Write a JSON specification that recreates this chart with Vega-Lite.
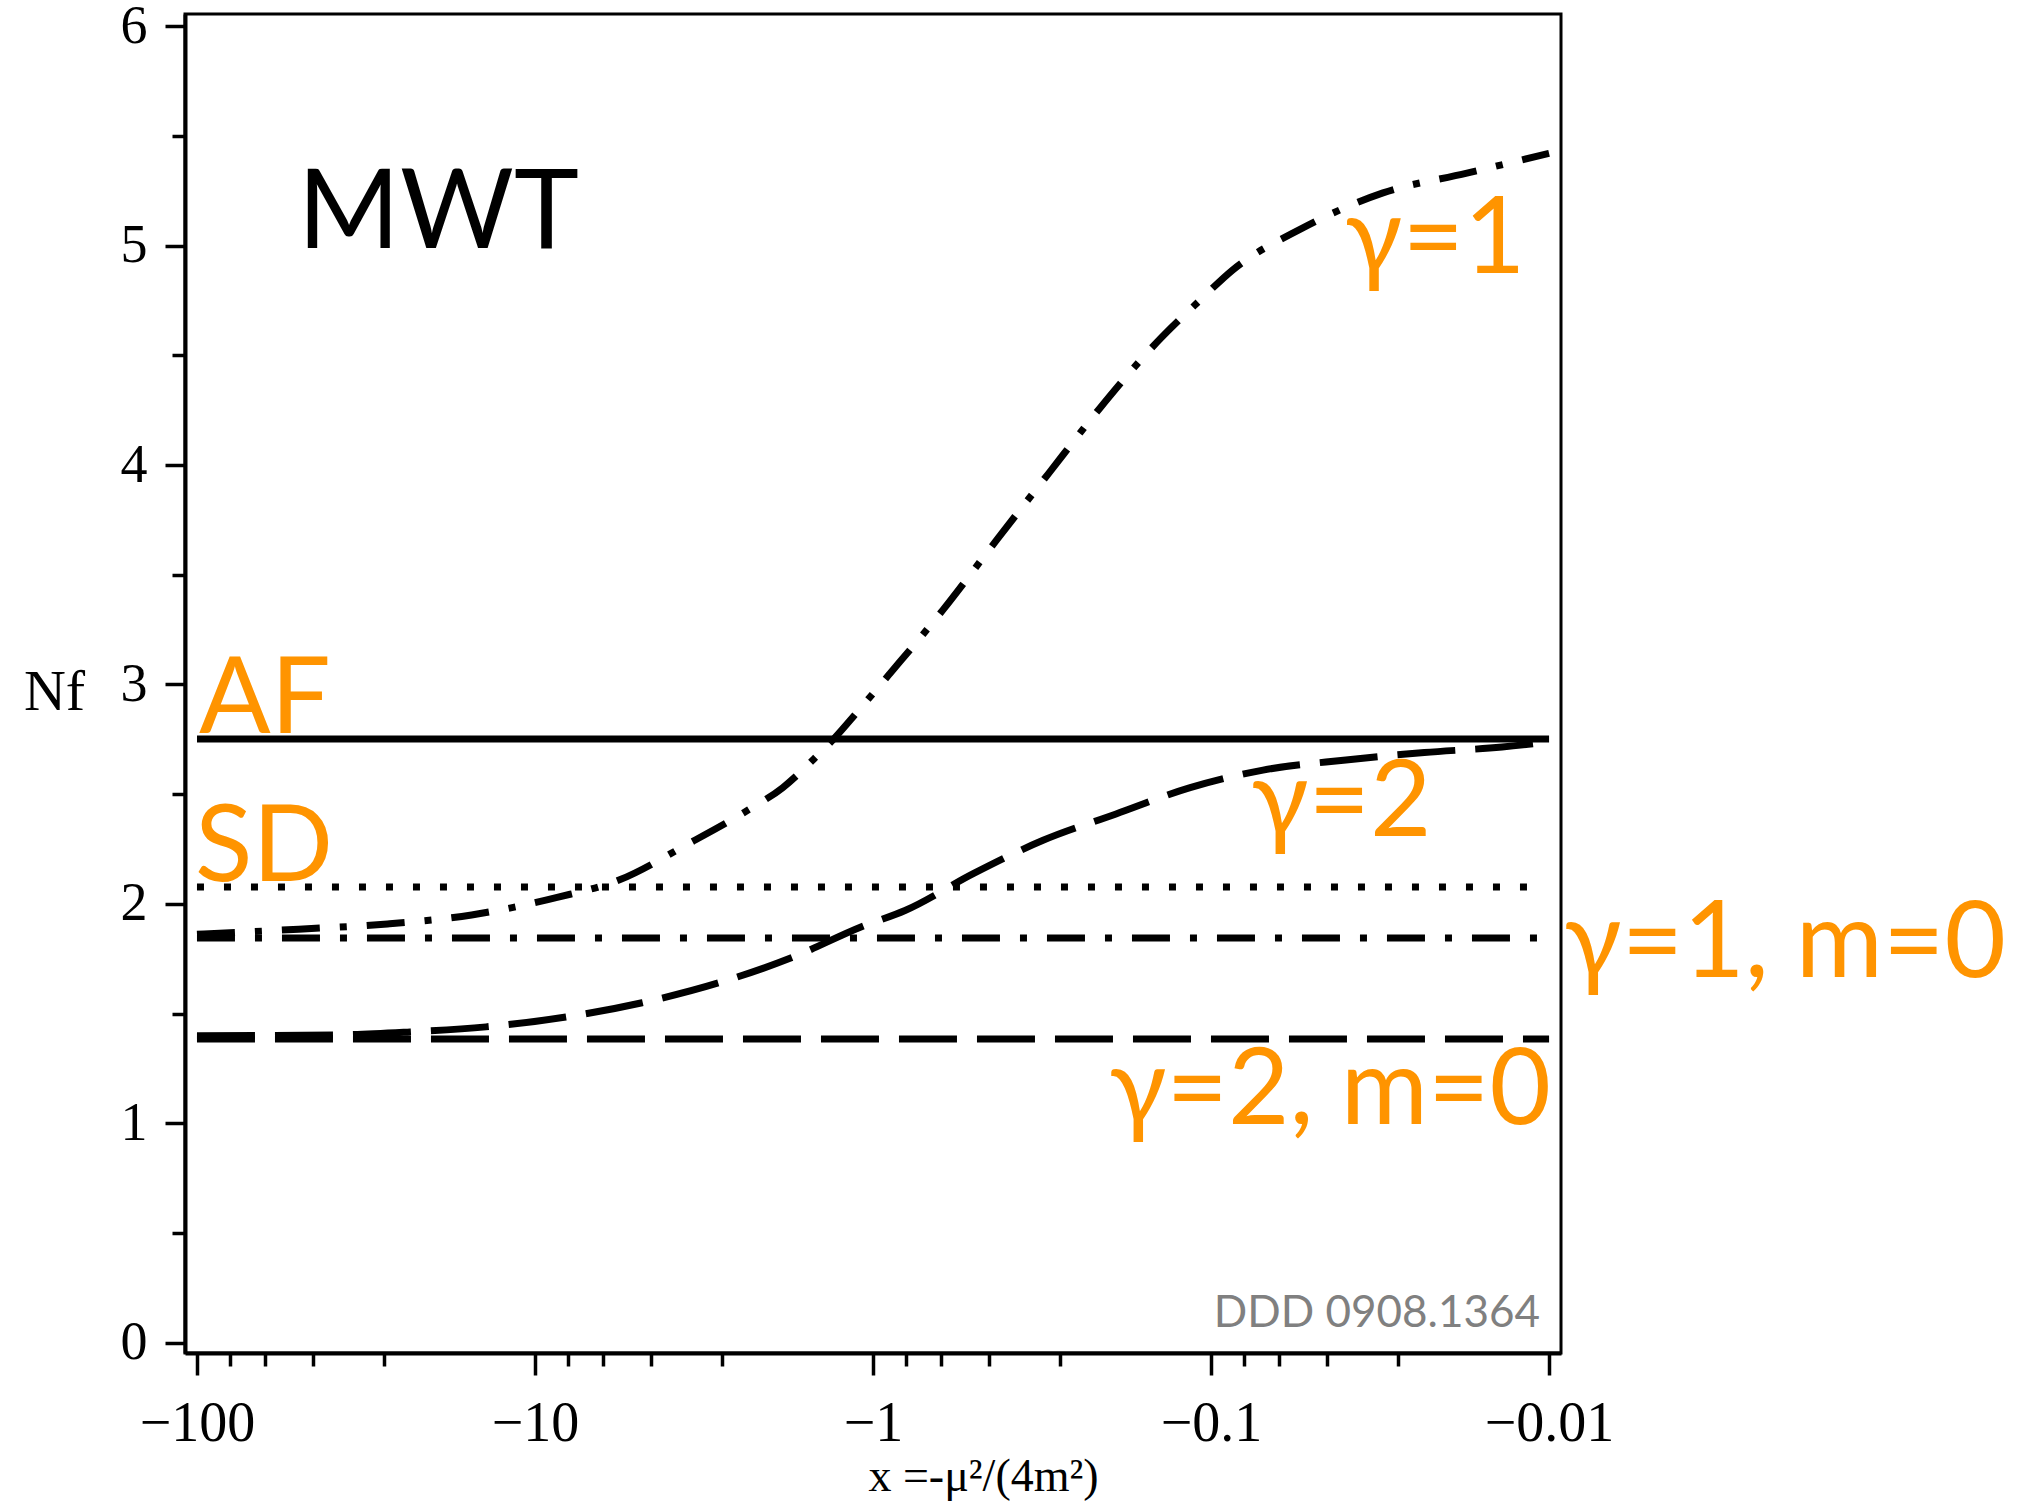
{
  "$schema": "https://vega.github.io/schema/vega-lite/v6.json",
  "autosize": {"type": "none"},
  "width": 1376,
  "height": 1339,
  "padding": {"left": 185, "top": 14, "right": 467, "bottom": 148},
  "background": "white",
  "config": {
    "view": {"stroke": "black", "strokeWidth": 3},
    "axis": {"grid": false}
  },
  "datasets": {
    "lines": [
      {"series": "AF", "t": 100, "y": 2.752},
      {"series": "AF", "t": 0.01, "y": 2.752},
      {"series": "SD", "t": 100, "y": 2.077},
      {"series": "SD", "t": 0.0105, "y": 2.077},
      {"series": "g1m0", "t": 100, "y": 1.845},
      {"series": "g1m0", "t": 0.0105, "y": 1.845},
      {"series": "g2m0", "t": 100, "y": 1.385},
      {"series": "g2m0", "t": 0.01, "y": 1.385},
      {"series": "g1", "t": 100, "y": 1.862},
      {"series": "g1", "t": 50, "y": 1.885},
      {"series": "g1", "t": 27.3, "y": 1.909},
      {"series": "g1", "t": 15.4, "y": 1.95},
      {"series": "g1", "t": 8.6, "y": 2.03},
      {"series": "g1", "t": 5.62, "y": 2.11},
      {"series": "g1", "t": 3.56, "y": 2.27},
      {"series": "g1", "t": 2.33, "y": 2.43},
      {"series": "g1", "t": 1.85, "y": 2.53},
      {"series": "g1", "t": 1.475, "y": 2.67},
      {"series": "g1", "t": 1.3, "y": 2.756},
      {"series": "g1", "t": 1.12, "y": 2.87},
      {"series": "g1", "t": 0.891, "y": 3.05},
      {"series": "g1", "t": 0.621, "y": 3.34},
      {"series": "g1", "t": 0.43, "y": 3.66},
      {"series": "g1", "t": 0.303, "y": 3.96},
      {"series": "g1", "t": 0.213, "y": 4.26},
      {"series": "g1", "t": 0.1445, "y": 4.56},
      {"series": "g1", "t": 0.108, "y": 4.75},
      {"series": "g1", "t": 0.0861, "y": 4.89},
      {"series": "g1", "t": 0.0535, "y": 5.08},
      {"series": "g1", "t": 0.031, "y": 5.24},
      {"series": "g1", "t": 0.0175, "y": 5.33},
      {"series": "g1", "t": 0.01, "y": 5.42},
      {"series": "g2", "t": 100, "y": 1.4},
      {"series": "g2", "t": 39.3, "y": 1.403},
      {"series": "g2", "t": 23.4, "y": 1.417},
      {"series": "g2", "t": 13.96, "y": 1.44},
      {"series": "g2", "t": 8.1, "y": 1.485},
      {"series": "g2", "t": 4.82, "y": 1.55},
      {"series": "g2", "t": 2.87, "y": 1.64},
      {"series": "g2", "t": 1.71, "y": 1.76},
      {"series": "g2", "t": 1.086, "y": 1.895},
      {"series": "g2", "t": 0.804, "y": 1.97},
      {"series": "g2", "t": 0.502, "y": 2.14},
      {"series": "g2", "t": 0.314, "y": 2.29},
      {"series": "g2", "t": 0.191, "y": 2.41},
      {"series": "g2", "t": 0.1153, "y": 2.53},
      {"series": "g2", "t": 0.0702, "y": 2.61},
      {"series": "g2", "t": 0.0399, "y": 2.656},
      {"series": "g2", "t": 0.0234, "y": 2.69},
      {"series": "g2", "t": 0.01377, "y": 2.715},
      {"series": "g2", "t": 0.01, "y": 2.738}
    ],
    "orange": [
      {"label": "AF", "t": 98.6, "y": 2.779},
      {"label": "SD", "t": 101.4, "y": 2.105},
      {"label": "γ=1", "t": 0.0402, "y": 4.875},
      {"label": "γ=2", "t": 0.0762, "y": 2.31},
      {"label": "γ=1, m=0", "t": 0.00903, "y": 1.667},
      {"label": "γ=2, m=0", "t": 0.2004, "y": 0.998}
    ],
    "title": [{"label": "MWT", "t": 50.3, "y": 4.989}],
    "credit": [{"label": "DDD 0908.1364", "t": 0.01064, "y": 0.073}]
  },
  "resolve": {"axis": {"x": "independent", "y": "independent"}},
  "layer": [
    {
      "data": {"name": "lines"},
      "mark": {"type": "line", "color": "black", "strokeWidth": 7, "strokeCap": "butt", "interpolate": "monotone"},
      "encoding": {
        "x": {
          "field": "t", "type": "quantitative",
          "scale": {"type": "log", "domain": [0.00922, 108.5], "reverse": true, "nice": false},
          "axis": {
            "orient": "bottom",
            "values": [100, 10, 1, 0.1, 0.01],
            "labelExpr": "'−' + datum.value",
            "tickSize": 22, "tickWidth": 3.5, "tickColor": "black",
            "domainWidth": 4, "domainColor": "black",
            "labelFont": "Liberation Serif", "labelFontSize": 56, "labelColor": "black",
            "labelPadding": 21, "labelFlush": false, "labelOverlap": false,
            "title": "x =-μ²/(4m²)",
            "titleFont": "Liberation Serif", "titleFontSize": 46, "titleFontWeight": "normal",
            "titleColor": "black", "titleX": 798, "titleY": 137,
            "titleBaseline": "alphabetic", "titleAlign": "center"
          }
        },
        "y": {
          "field": "y", "type": "quantitative",
          "scale": {"domain": [-0.046, 6.055], "nice": false, "zero": false},
          "axis": {
            "orient": "left",
            "values": [0, 1, 2, 3, 4, 5, 6],
            "tickSize": 20, "tickWidth": 3.5, "tickColor": "black",
            "domainWidth": 4, "domainColor": "black",
            "labelFont": "Liberation Serif", "labelFontSize": 54, "labelColor": "black",
            "labelPadding": 18, "labelFlush": false, "labelOverlap": false,
            "title": "Nf", "titleAngle": 0,
            "titleFont": "Liberation Serif", "titleFontSize": 58, "titleFontWeight": "normal",
            "titleColor": "black", "titleX": -131, "titleY": 695,
            "titleBaseline": "alphabetic", "titleAlign": "center"
          }
        },
        "strokeDash": {
          "field": "series", "type": "nominal",
          "scale": {
            "domain": ["AF", "SD", "g1m0", "g2m0", "g1", "g2"],
            "range": [[1, 0], [7, 20], [38, 20, 7, 20], [58, 20], [38, 20, 7, 20], [58, 20]]
          },
          "legend": null
        }
      }
    },
    {
      "data": {"name": "orange"},
      "mark": {"type": "text", "font": "Lato, Open Sans, sans-serif", "fontSize": 106, "color": "#FF9400", "align": "left", "baseline": "alphabetic"},
      "encoding": {
        "x": {
          "field": "t", "type": "quantitative",
          "scale": {"type": "log", "domain": [0.00922, 108.5], "reverse": true, "nice": false},
          "axis": {
            "orient": "bottom",
            "values": [80, 63, 45.5, 28, 8, 6.3, 4.55, 2.8, 0.8, 0.63, 0.455, 0.28, 0.08, 0.063, 0.0455, 0.028],
            "labels": false, "domain": false,
            "tickSize": 13, "tickWidth": 3.5, "tickColor": "black",
            "title": null
          }
        },
        "y": {
          "field": "y", "type": "quantitative",
          "scale": {"domain": [-0.046, 6.055], "nice": false, "zero": false},
          "axis": {
            "orient": "left",
            "values": [0.5, 1.5, 2.5, 3.5, 4.5, 5.5],
            "labels": false, "domain": false,
            "tickSize": 13, "tickWidth": 3.5, "tickColor": "black",
            "title": null
          }
        },
        "text": {"field": "label", "type": "nominal"}
      }
    },
    {
      "data": {"name": "title"},
      "mark": {"type": "text", "font": "Lato, Open Sans, sans-serif", "fontSize": 110, "color": "black", "align": "left", "baseline": "alphabetic"},
      "encoding": {
        "x": {"field": "t", "type": "quantitative", "scale": {"type": "log", "domain": [0.00922, 108.5], "reverse": true, "nice": false}, "axis": null},
        "y": {"field": "y", "type": "quantitative", "scale": {"domain": [-0.046, 6.055], "nice": false, "zero": false}, "axis": null},
        "text": {"field": "label", "type": "nominal"}
      }
    },
    {
      "data": {"name": "credit"},
      "mark": {"type": "text", "font": "Lato, Open Sans, sans-serif", "fontSize": 44, "color": "#808080", "align": "right", "baseline": "alphabetic"},
      "encoding": {
        "x": {"field": "t", "type": "quantitative", "scale": {"type": "log", "domain": [0.00922, 108.5], "reverse": true, "nice": false}, "axis": null},
        "y": {"field": "y", "type": "quantitative", "scale": {"domain": [-0.046, 6.055], "nice": false, "zero": false}, "axis": null},
        "text": {"field": "label", "type": "nominal"}
      }
    }
  ]
}
